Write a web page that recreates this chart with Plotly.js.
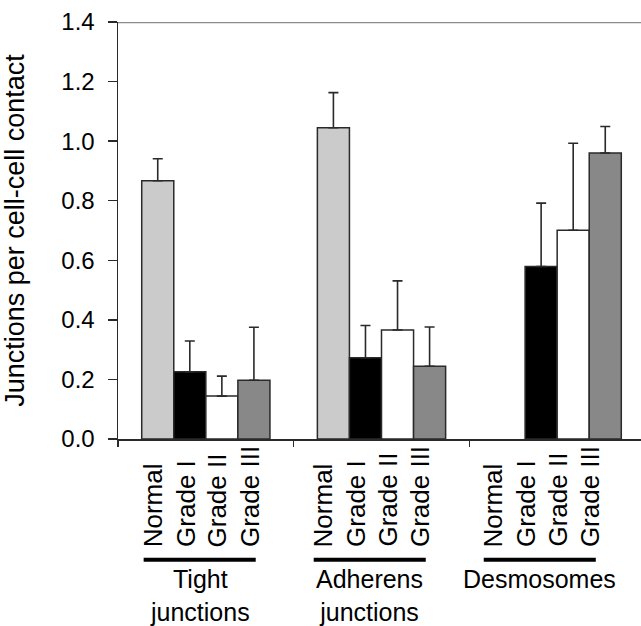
<!DOCTYPE html>
<html>
<head>
<meta charset="utf-8">
<script src="https://cdn.plot.ly/plotly-3.0.1.min.js"></script>
<style>html,body{margin:0;padding:0;overflow:hidden;background:#fff}</style>
</head>
<body>
<div id="chart" style="width:645px;height:626px"></div>
<script>
// ---- data ----
const groups = ['Tight junctions', 'Adherens junctions', 'Desmosomes'];
const groupTitles = ['Tight<br>junctions', 'Adherens<br>junctions', 'Desmosomes'];
const seriesNames = ['Normal', 'Grade I', 'Grade II', 'Grade III'];
const normal      = [0.867, 1.045, null];
const normalErr   = [0.074, 0.118, null];
const gradeI      = [0.226, 0.273, 0.579];
const gradeIErr   = [0.103, 0.108, 0.213];
const gradeII     = [0.144, 0.366, 0.701];
const gradeIIErr  = [0.067, 0.165, 0.292];
const gradeIII    = [0.197, 0.244, 0.960];
const gradeIIIErr = [0.178, 0.132, 0.089];
const yTicks = [0, 0.2, 0.4, 0.6, 0.8, 1.0, 1.2, 1.4];

// ---- styles ----
const values = [normal, gradeI, gradeII, gradeIII];
const errors = [normalErr, gradeIErr, gradeIIErr, gradeIIIErr];
const colors = ['#cbcbcb', '#000000', '#ffffff', '#888888'];
const FONT = 'Liberation Sans, Arial, Helvetica, sans-serif';
const BARGAP = 0.27;
const barW = (1 - BARGAP) / seriesNames.length;

const traces = seriesNames.map((name, i) => ({
  type: 'bar',
  name: name,
  x: groups,
  y: values[i],
  marker: {color: colors[i], line: {color: '#2a2a2a', width: 1.5}},
  error_y: {
    type: 'data', symmetric: false,
    array: errors[i],
    arrayminus: errors[i].map(v => v === null ? null : 0),
    color: '#2a2a2a', thickness: 1.6, width: 5
  },
  hoverinfo: 'skip'
}));

const annotations = [];
const shapes = [];
// top reference line at axis max
shapes.push({type: 'line', xref: 'paper', yref: 'y', x0: 0, x1: 1, y0: yTicks[yTicks.length-1], y1: yTicks[yTicks.length-1],
  line: {color: '#8c8c8c', width: 2.5}, layer: 'below'});

groups.forEach((g, gi) => {
  const labShift = -0.025 - 0.032 * gi;
  seriesNames.forEach((s, si) => {
    const off = (si - (seriesNames.length - 1) / 2) * barW;
    annotations.push({
      xref: 'x', yref: 'paper', x: gi + off + labShift, y: -0.2614,
      text: s, textangle: -90, showarrow: false,
      xanchor: 'center', yanchor: 'bottom', borderpad: 0,
      font: {family: FONT, size: 26, color: '#000'}
    });
  });
  const c = gi - 0.035 - 0.032 * gi;
  shapes.push({type: 'line', xref: 'x', yref: 'paper', x0: c - 0.319, x1: c + 0.319, y0: -0.2894, y1: -0.2894,
    line: {color: '#000', width: 4}});
  annotations.push({
    xref: 'x', yref: 'paper', x: c, y: -0.297,
    text: groupTitles[gi], showarrow: false, xanchor: 'center', yanchor: 'top',
    font: {family: FONT, size: 25, color: '#000'}
  });
});

const layout = {
  width: 645, height: 626,
  margin: {l: 118, r: 0, t: 22, b: 187},
  paper_bgcolor: '#fff', plot_bgcolor: '#fff',
  showlegend: false,
  barmode: 'group', bargap: BARGAP, bargroupgap: 0,
  font: {family: FONT, color: '#000'},
  xaxis: {
    type: 'category', range: [-0.5, 2.5], fixedrange: true,
    showticklabels: false, tickson: 'boundaries', ticks: 'outside', ticklen: 6, tickwidth: 1.5, tickcolor: '#2a2a2a',
    showline: true, linecolor: '#2a2a2a', linewidth: 1.5, showgrid: false, zeroline: false
  },
  yaxis: {
    range: [0, 1.4], tickvals: yTicks, tickformat: '.1f',
    ticks: 'outside', ticklen: 9, tickwidth: 1.5, tickcolor: '#2a2a2a',
    ticklabelstandoff: 8,
    showline: true, linecolor: '#2a2a2a', linewidth: 1.5, showgrid: false, zeroline: false,
    tickfont: {family: FONT, size: 24, color: '#000'},
    title: {text: 'Junctions per cell-cell contact', font: {family: FONT, size: 27, color: '#000'}, standoff: 30}
  },
  annotations: annotations,
  shapes: shapes
};

Plotly.newPlot('chart', traces, layout, {displayModeBar: false, staticPlot: true});
</script>
</body>
</html>
